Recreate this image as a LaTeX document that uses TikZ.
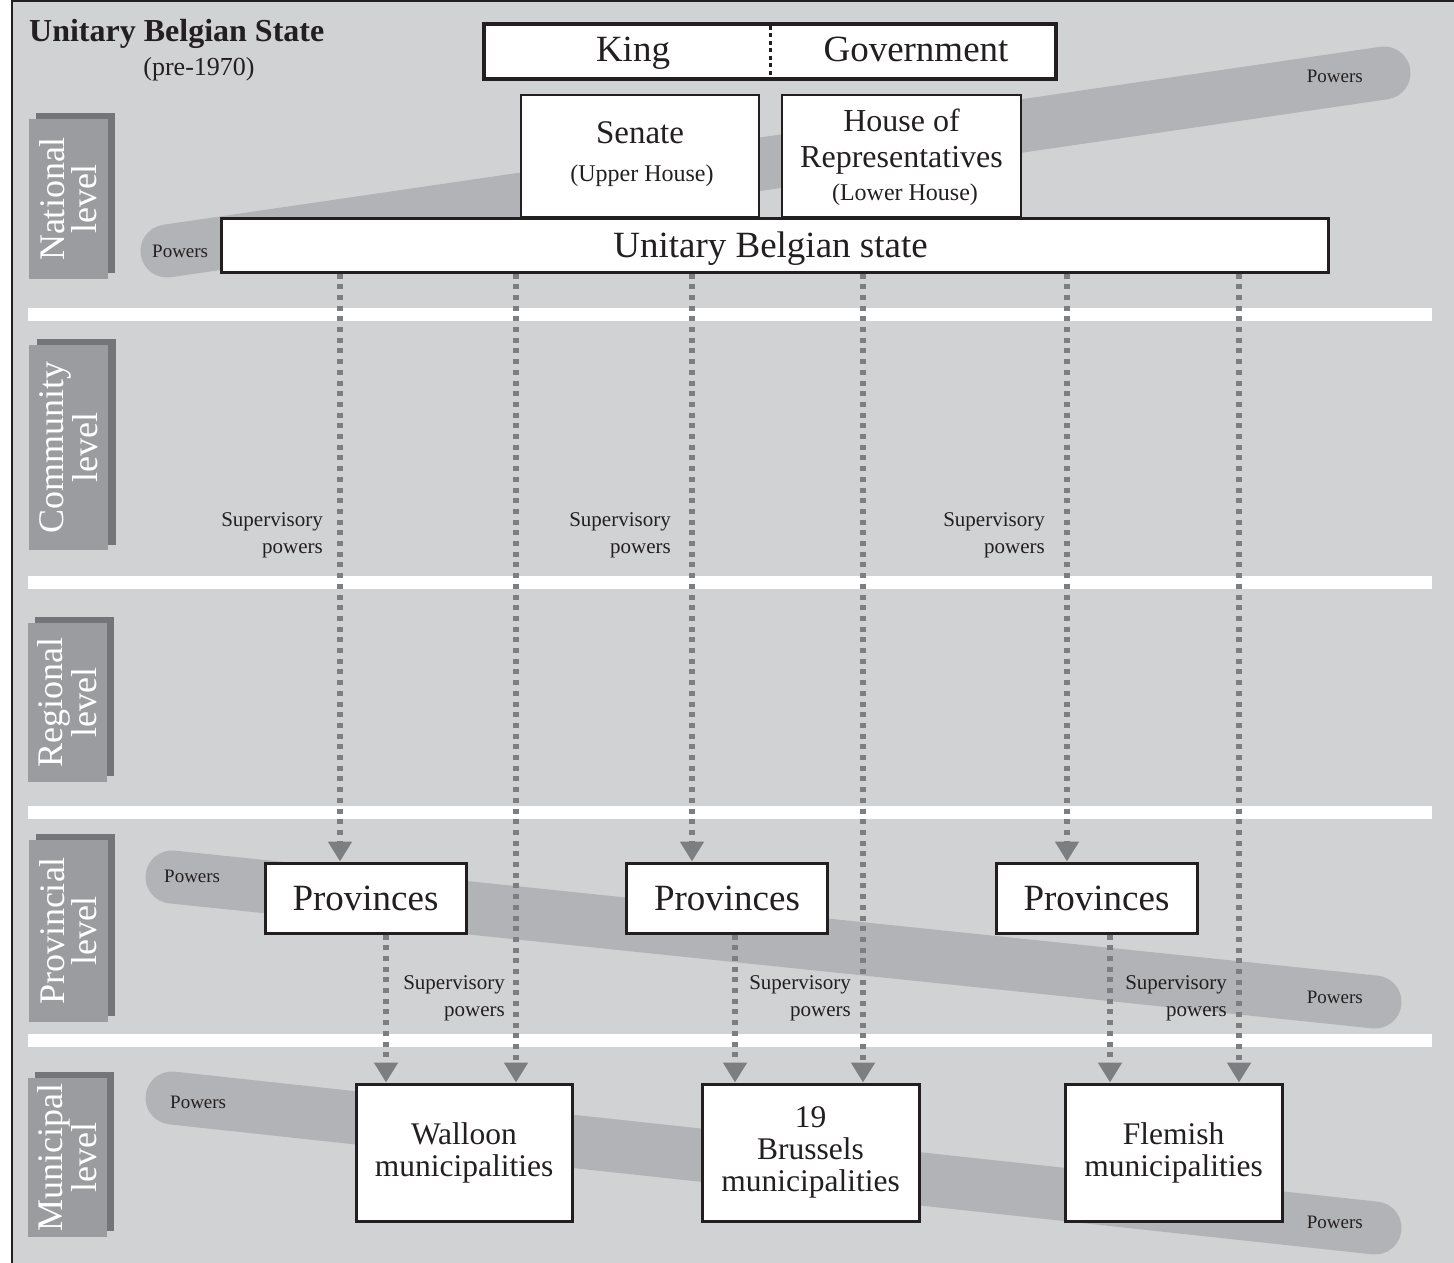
\documentclass[tikz,border=0pt]{standalone}
\usepackage{fontspec}
\setmainfont{Liberation Serif}
\usetikzlibrary{arrows.meta}
\definecolor{bggray}{HTML}{D1D2D4}
\definecolor{bandgray}{HTML}{B2B3B6}
\definecolor{lvlgray}{HTML}{9B9C9F}
\definecolor{lvlshade}{HTML}{747578}
\definecolor{arrowgray}{HTML}{7D7E81}
\definecolor{ink}{HTML}{231F20}
\newcommand\setfs[2]{\fontsize{#1pt}{#2pt}\selectfont}

\begin{document}
\begin{tikzpicture}[x=1pt,y=-1pt,
  box/.style={draw=ink, fill=white, line width=3pt, inner sep=0pt, rectangle},
  txt/.style={text=ink, inner sep=0pt, anchor=base},
  powerband/.style={draw=bandgray, line width=53pt, line cap=round},
  powerlbl/.style={text=ink, inner sep=0pt, font=\setfs{19}{22}},
  suplbl/.style={text=ink, inner sep=0pt, anchor=north east, align=right, font=\setfs{21}{26.5}},
  lvlbox/.style={fill=lvlgray, text=white, inner sep=0pt, rotate=90, align=center, font=\setfs{36}{32}},
  supline/.style={draw=arrowgray, line width=5.5pt, dash pattern=on 5pt off 5.7pt,
    -{Triangle[length=20pt,width=23pt]}},
]
\useasboundingbox (0,0) rectangle (1454,1263);

% background panel and frame
\fill[bggray] (12,1) rectangle (1454,1263);
\draw[ink, line width=2.5pt] (12,1263) -- (12,1) -- (1454,1);

% separators between the levels
\foreach \y in {308,576,806,1034}
  \fill[white] (28,\y) rectangle (1432,\y+13);

% powers bands
\draw[powerband] (167,251) -- (1384,73);
\draw[powerband] (172,877) -- (1375,1002);
\draw[powerband] (172,1098) -- (1375,1228);

% title
\node[txt, anchor=base west, font=\bfseries\setfs{32}{36}] (title) at (29,42) {Unitary Belgian State};
\node[txt, font=\setfs{26}{30}] (pre) at (199,76) {(pre-1970)};

% level tabs
\fill[lvlshade] (36,113) rectangle (115,273);
\node[lvlbox, minimum width=160pt, minimum height=79pt] (natl) at (68.5,199) {National\\level};
\fill[lvlshade] (37,339) rectangle (116,545);
\node[lvlbox, minimum width=205pt, minimum height=79pt] (comm) at (68.5,447.5) {Community\\level};
\fill[lvlshade] (35,617) rectangle (114,776);
\node[lvlbox, minimum width=159pt, minimum height=79pt] (regl) at (67.5,702.5) {Regional\\level};
\fill[lvlshade] (36,834) rectangle (115,1016);
\node[lvlbox, minimum width=182pt, minimum height=79pt] (prvl) at (68.5,931) {Provincial\\level};
\fill[lvlshade] (35,1072) rectangle (114,1231);
\node[lvlbox, minimum width=159pt, minimum height=79pt] (munl) at (67.5,1157.5) {Municipal\\level};

% powers labels
\node[powerlbl, anchor=base west] (pw1) at (152,257) {Powers};
\node[powerlbl, anchor=base east] (pw2) at (1363,82) {Powers};
\node[powerlbl, anchor=base west] (pw3) at (164,882) {Powers};
\node[powerlbl, anchor=base east] (pw4) at (1363,1003) {Powers};
\node[powerlbl, anchor=base west] (pw5) at (170,1108) {Powers};
\node[powerlbl, anchor=base east] (pw6) at (1363,1228) {Powers};

% national institutions
\node[box, line width=4pt, minimum width=572pt, minimum height=55pt] (kg) at (770,51.5) {};
\draw[ink, line width=3pt, dash pattern=on 4pt off 3.5pt, shorten <=4pt, shorten >=4pt] (kg.north) -- (kg.south);
\node[txt, font=\setfs{37}{40}] (king) at (633,62) {King};
\node[txt, font=\setfs{37}{40}] (gov) at (916,62) {Government};

\node[box, line width=2.5pt, minimum width=238pt, minimum height=122pt] (senate) at (640,156) {};
\node[txt, font=\setfs{33}{36}] (senT) at (640,143) {Senate};
\node[txt, font=\setfs{24}{28}] (senS) at (642,181) {(Upper House)};

\node[box, line width=2.5pt, minimum width=239pt, minimum height=122pt] (house) at (901.5,156) {};
\node[txt, font=\setfs{32}{36}] (houT1) at (901.5,131) {House of};
\node[txt, font=\setfs{32}{36}] (houT2) at (901.5,167) {Representatives};
\node[txt, font=\setfs{24}{28}] (houS) at (905,200) {(Lower House)};

\node[box, minimum width=1107pt, minimum height=54pt] (ubs) at (774.5,245) {};
\node[txt, font=\setfs{37}{40}] (ubsT) at (770.5,257) {Unitary Belgian state};

% provinces
\node[box, minimum width=201pt, minimum height=70pt, font=\setfs{37}{40}, text=ink] (prov1) at (365.5,898) {Provinces};
\node[box, minimum width=201pt, minimum height=70pt, font=\setfs{37}{40}, text=ink] (prov2) at (727,898) {Provinces};
\node[box, minimum width=201pt, minimum height=70pt, font=\setfs{37}{40}, text=ink] (prov3) at (1096.5,898) {Provinces};

% municipalities
\node[box, minimum width=216pt, minimum height=137pt, align=center, font=\setfs{31.5}{32}, text=ink] (wal) at (464,1152.5) {Walloon\\municipalities};
\node[box, minimum width=217pt, minimum height=137pt, align=center, font=\setfs{31.5}{32}, text=ink] (bru) at (810.5,1152.5) {19\\Brussels\\municipalities};
\node[box, minimum width=217pt, minimum height=137pt, align=center, font=\setfs{31.5}{32}, text=ink] (fle) at (1173.5,1152.5) {Flemish\\municipalities};

% columns of the supervisory links
\coordinate (c1) at (340,0);
\coordinate (c2) at (516,0);
\coordinate (c3) at (692,0);
\coordinate (c4) at (863,0);
\coordinate (c5) at (1067,0);
\coordinate (c6) at (1239,0);
\coordinate (d1) at (386,0);
\coordinate (d2) at (735,0);
\coordinate (d3) at (1110,0);

\draw[supline] (ubs.south -| c1) -- (prov1.north -| c1);
\draw[supline] (ubs.south -| c2) -- (wal.north -| c2);
\draw[supline] (ubs.south -| c3) -- (prov2.north -| c3);
\draw[supline] (ubs.south -| c4) -- (bru.north -| c4);
\draw[supline] (ubs.south -| c5) -- (prov3.north -| c5);
\draw[supline] (ubs.south -| c6) -- (fle.north -| c6);
\draw[supline] (prov1.south -| d1) -- (wal.north -| d1);
\draw[supline] (prov2.south -| d2) -- (bru.north -| d2);
\draw[supline] (prov3.south -| d3) -- (fle.north -| d3);

% supervisory labels
\node[suplbl] (sup1) at (323,512.7) {Supervisory\\powers};
\node[suplbl] (sup2) at (671,512.7) {Supervisory\\powers};
\node[suplbl] (sup3) at (1045,512.7) {Supervisory\\powers};
\node[suplbl] (sup4) at (505,975.7) {Supervisory\\powers};
\node[suplbl] (sup5) at (851,975.7) {Supervisory\\powers};
\node[suplbl] (sup6) at (1227,975.7) {Supervisory\\powers};
\end{tikzpicture}
\end{document}
